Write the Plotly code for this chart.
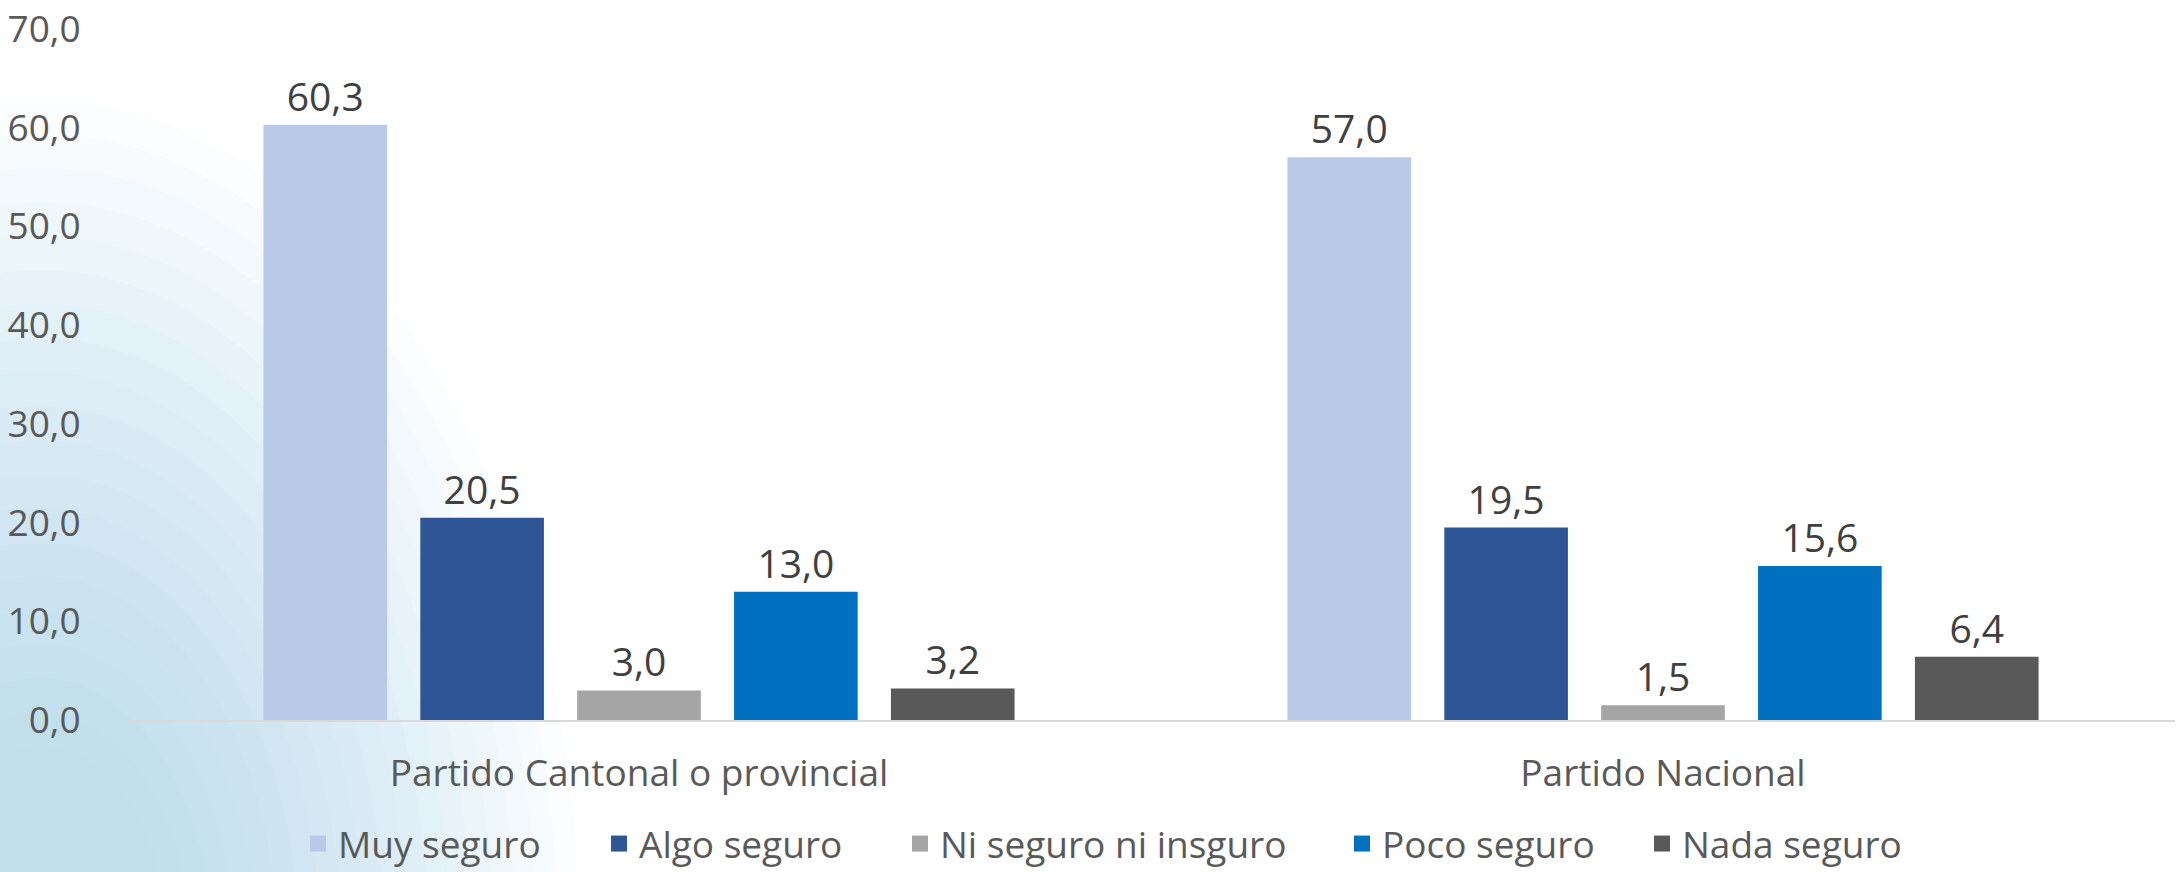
import plotly.graph_objects as go

categories = ["Partido Cantonal o provincial", "Partido Nacional"]
series_names = ["Muy seguro", "Algo seguro", "Ni seguro ni insguro", "Poco seguro", "Nada seguro"]
muy_seguro = [60.3, 57.0]
algo_seguro = [20.5, 19.5]
ni_seguro = [3.0, 1.5]
poco_seguro = [13.0, 15.6]
nada_seguro = [3.2, 6.4]
series_values = [muy_seguro, algo_seguro, ni_seguro, poco_seguro, nada_seguro]
colors = ["#B9CAE8", "#2E5596", "#A5A5A5", "#0070C0", "#595959"]
y_ticks = [0, 10, 20, 30, 40, 50, 60, 70]

W, H = 2176, 872
ML, MR, MT, MB = 127, 1, 29, 152
PW, PH = W - ML - MR, H - MT - MB

def px_x(x):
    return (x - ML) / PW

def px_y(y):
    return (H - MB - y) / PH

FONT = "Open Sans"
legend_centers_px = [320, 621, 922, 1364, 1664]
legend_ids = ["legend", "legend2", "legend3", "legend4", "legend5"]

fig = go.Figure()
for name, vals, col, lid in zip(series_names, series_values, colors, legend_ids):
    fig.add_trace(go.Bar(
        x=categories, y=vals, name=name, legendgroup=name, showlegend=False,
        marker=dict(color=col, line=dict(width=0)),
        text=vals, texttemplate="%{y:.1f}", textposition="outside",
        textfont=dict(family=FONT, size=39, color="#404040"),
        cliponaxis=False,
    ))
    fig.add_trace(go.Scatter(
        x=[None], y=[None], mode="markers", name=name, legendgroup=name,
        legend=lid, showlegend=True,
        marker=dict(symbol="square", size=16, color=col),
        hoverinfo="skip",
    ))

# soft background decoration (radial-like glow in lower-left)
shapes = []
cx, cy, rx, ry = 40, 950, 540, 850
n = 20
for i in range(n):
    s = 1.0 - i * 0.04
    shapes.append(dict(
        type="circle", xref="paper", yref="paper", layer="below",
        x0=px_x(cx - rx * s), x1=px_x(cx + rx * s),
        y0=px_y(cy + ry * s), y1=px_y(cy - ry * s),
        fillcolor="rgb(150,200,220)", opacity=0.04, line=dict(width=0),
    ))

legend_common = dict(
    orientation="h", xanchor="left", yanchor="middle", y=px_y(844),
    font=dict(family=FONT, size=37, color="#595959"),
    bgcolor="rgba(0,0,0,0)", itemwidth=30, itemsizing="trace",
)
legends = {}
for lid, c in zip(legend_ids, legend_centers_px):
    legends[lid] = dict(legend_common, x=px_x(c - 22))

fig.update_layout(
    width=W, height=H,
    margin=dict(l=ML, r=MR, t=MT, b=MB, autoexpand=False),
    paper_bgcolor="white", plot_bgcolor="rgba(0,0,0,0)",
    barmode="group", bargap=0.234, bargroupgap=0.212,
    separators=",.",
    font=dict(family=FONT, color="#595959"),
    shapes=shapes,
    showlegend=True,
    xaxis=dict(
        automargin=False,
        showline=True, linecolor="#D9D9D9", linewidth=2,
        showgrid=False, zeroline=False,
        ticks="outside", ticklen=20, tickcolor="rgba(0,0,0,0)",
        tickfont=dict(family=FONT, size=37, color="#595959"),
    ),
    yaxis=dict(
        automargin=False,
        range=[0, 70], tickvals=y_ticks, tickformat=".1f",
        showgrid=False, zeroline=False, showline=False,
        ticks="outside", ticklen=38, tickcolor="rgba(0,0,0,0)",
        tickfont=dict(family=FONT, size=37, color="#595959"),
    ),
    **legends,
)

fig.write_html(
    "out.html",
    config={"displayModeBar": False},
    post_script="document.body.style.margin='0px';document.body.style.overflow='hidden';",
)
